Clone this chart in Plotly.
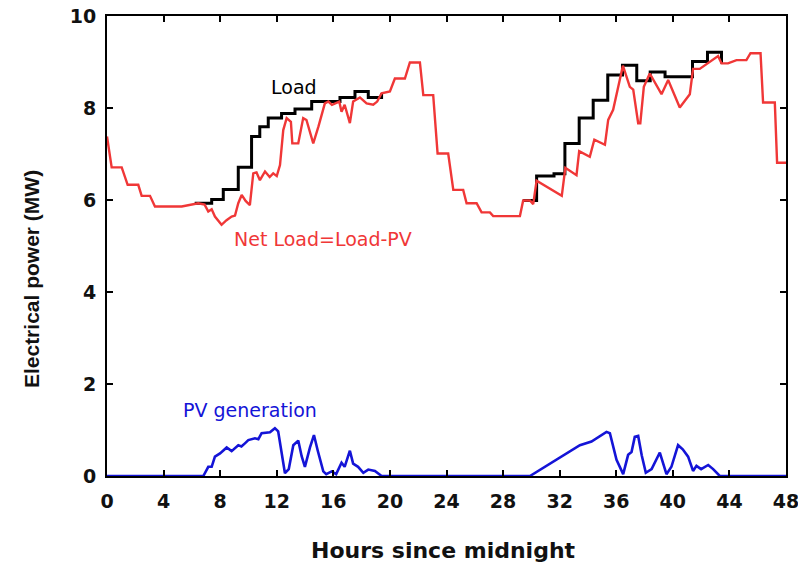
import plotly.graph_objects as go

# Net load (MW) vs hours
net_hours = [0, 0.33, 1.04, 1.46, 2.21, 2.45, 3.04, 3.39, 5.28, 6.22, 6.45, 6.9, 7.16, 7.4, 7.63, 8.1, 8.45,
             8.81, 9.05, 9.28, 9.52, 9.8, 10.1, 10.34, 10.57, 10.81, 11.17, 11.5, 11.75, 12.0, 12.23, 12.46,
             12.7, 13.0, 13.1, 13.52, 13.87, 14.1, 14.58, 14.95, 15.4, 15.65, 15.9, 16.42, 16.58, 16.8, 17.17,
             17.4, 17.88, 18.35, 18.82, 19.1, 19.41, 20.0, 20.35, 21.06, 21.41, 22.12, 22.36, 23.06, 23.37,
             24.12, 24.48, 25.18, 25.42, 26.13, 26.48, 27.07, 27.3, 29.19, 29.42, 29.9, 30.13, 30.37, 32.15,
             32.4, 33.19, 33.38, 34.13, 34.45, 35.2, 35.43, 35.78, 36.47, 36.96, 37.2, 37.55, 37.7, 37.95,
             38.37, 39.2, 39.67, 40.49, 41.2, 41.43, 41.9, 43.2, 43.44, 43.9, 44.5, 45.2, 45.49, 46.2, 46.38,
             47.21, 47.37, 48]
net_load = [7.38, 6.71, 6.71, 6.33, 6.33, 6.09, 6.09, 5.86, 5.86, 5.91, 5.93, 5.9, 5.75, 5.8, 5.64, 5.46, 5.56,
            5.64, 5.66, 5.93, 6.11, 5.98, 5.89, 6.58, 6.6, 6.43, 6.62, 6.5, 6.58, 6.52, 6.76, 7.52,
            7.78, 7.7, 7.23, 7.23, 7.78, 7.74, 7.23, 7.6, 8.1, 8.14, 8.07, 8.14, 7.92, 8.07, 7.67,
            8.14, 8.23, 8.1, 8.07, 8.14, 8.32, 8.36, 8.64, 8.64, 8.99, 8.99, 8.28, 8.28, 7.01,
            7.01, 6.22, 6.22, 5.93, 5.93, 5.73, 5.73, 5.65, 5.65, 5.99, 5.99, 5.91, 6.42, 6.09,
            6.7, 6.54, 7.06, 6.94, 7.31, 7.2, 7.74, 7.96, 8.92, 8.46, 8.4, 7.67, 7.67, 8.46,
            8.75, 8.3, 8.61, 8.01, 8.3, 8.85, 8.85, 9.13, 8.97, 8.97, 9.04, 9.04, 9.19, 9.19, 8.12,
            8.12, 6.81, 6.81]

# Load (MW) where it differs from net load (daylight hours), step changes
load_hours_d1 = [6.2, 7.4, 8.22, 9.28, 10.22, 10.8, 11.4, 12.34, 13.29, 14.47, 16.47, 17.53, 18.47, 19.41]
load_d1 = [5.93, 6.01, 6.23, 6.71, 7.38, 7.59, 7.78, 7.88, 7.98, 8.14, 8.23, 8.36, 8.23, 8.32]
load_hours_d2 = [29.42, 30.37, 31.6, 32.37, 33.38, 34.37, 35.4, 36.44, 37.45, 38.4, 39.45, 41.39, 42.45, 43.44]
load_d2 = [5.99, 6.52, 6.57, 7.23, 7.78, 8.17, 8.72, 8.93, 8.59, 8.78, 8.68, 9.01, 9.21, 8.97]

# PV generation (MW)
pv_hours = [0, 6.81, 7.16, 7.4, 7.63, 7.99, 8.46, 8.81, 9.28, 9.5, 9.75, 9.99, 10.46, 10.7, 10.93, 11.52,
            11.87, 12.1, 12.58, 12.85, 13.17, 13.52, 13.76, 13.99, 14.35, 14.63, 14.9, 15.29, 15.5, 15.88,
            16.2, 16.58, 16.8, 17.17, 17.4, 17.75, 18.12, 18.47, 18.94, 19.41,
            29.9, 31.54, 33.43, 34.25, 35.31, 35.55, 36.02, 36.49, 36.84, 37.08, 37.31, 37.55, 37.8,
            38.09, 38.5, 39.08, 39.55, 39.9, 40.37, 40.7, 41.08, 41.43, 41.67, 42.0, 42.5, 42.85, 43.32, 48]
pv = [0, 0, 0.2, 0.2, 0.42, 0.49, 0.62, 0.54, 0.67, 0.64, 0.71, 0.78, 0.82, 0.8, 0.93, 0.95,
      1.04, 0.97, 0.06, 0.15, 0.67, 0.77, 0.43, 0.2, 0.62, 0.89, 0.55, 0.1, 0.04, 0.1,
      0.04, 0.29, 0.2, 0.55, 0.27, 0.2, 0.07, 0.14, 0.11, 0,
      0, 0.31, 0.67, 0.75, 0.96, 0.93, 0.35, 0.04, 0.46, 0.52, 0.85, 0.87, 0.45,
      0.07, 0.15, 0.51, 0.04, 0.2, 0.67, 0.58, 0.42, 0.11, 0.22, 0.15, 0.24, 0.15, 0, 0]

x_ticks = [0, 4, 8, 12, 16, 20, 24, 28, 32, 36, 40, 44, 48]
y_ticks = [0, 2, 4, 6, 8, 10]

BLACK = "#000000"
RED = "rgb(240,55,55)"
BLUE = "rgb(20,20,215)"
ARIAL = "Arial, Liberation Sans, sans-serif"
WIDE = "DejaVu Sans, sans-serif"

fig = go.Figure()
fig.add_trace(go.Scatter(x=pv_hours, y=pv, mode="lines", line=dict(color=BLUE, width=2.6), cliponaxis=False))
fig.add_trace(go.Scatter(x=load_hours_d1, y=load_d1, mode="lines", line=dict(color=BLACK, width=3, shape="hv")))
fig.add_trace(go.Scatter(x=load_hours_d2, y=load_d2, mode="lines", line=dict(color=BLACK, width=3, shape="hv")))
fig.add_trace(go.Scatter(x=net_hours, y=net_load, mode="lines", line=dict(color=RED, width=2.4)))

fig.add_annotation(x=13.2, y=8.46, text="Load", showarrow=False, font=dict(color=BLACK, size=19, family=WIDE))
fig.add_annotation(x=15.3, y=5.15, text="Net Load=Load-PV", showarrow=False, font=dict(color=RED, size=19, family=WIDE))
fig.add_annotation(x=10.1, y=1.43, text="PV generation", showarrow=False, font=dict(color=BLUE, size=19, family=WIDE))

# axis titles
fig.add_annotation(xref="paper", yref="paper", x=0.495, y=-0.161, xanchor="center", yanchor="middle",
                   text="<b>Hours since midnight</b>",
                   showarrow=False, font=dict(family=WIDE, size=22, color="#111"))
fig.add_annotation(xref="paper", yref="paper", x=-0.112, y=0.428, xanchor="center", yanchor="middle",
                   text="<b>Electrical power (MW)</b>",
                   showarrow=False, textangle=-90, font=dict(family=ARIAL, size=21, color="#111"))

tickfont = dict(family=WIDE, size=19, color="#111", weight="bold")
axis_common = dict(showline=True, linecolor=BLACK, linewidth=2, mirror="ticks", ticks="inside",
                   ticklen=6, tickwidth=1.5, tickcolor=BLACK, showgrid=False, zeroline=False,
                   automargin=False, tickfont=tickfont, ticklabeloverflow="allow")

fig.update_xaxes(range=[0, 48], tickvals=x_ticks, ticktext=[str(v) for v in x_ticks],
                 ticklabelstandoff=7, **axis_common)
fig.update_yaxes(range=[0, 10], tickvals=y_ticks, ticktext=[str(v) for v in y_ticks],
                 ticklabelstandoff=5, **axis_common)
fig.update_layout(width=798, height=566, margin=dict(l=107, r=12, t=16, b=90),
                  plot_bgcolor="white", paper_bgcolor="white", showlegend=False,
                  font=dict(family=ARIAL))
fig.write_html("out.html")
